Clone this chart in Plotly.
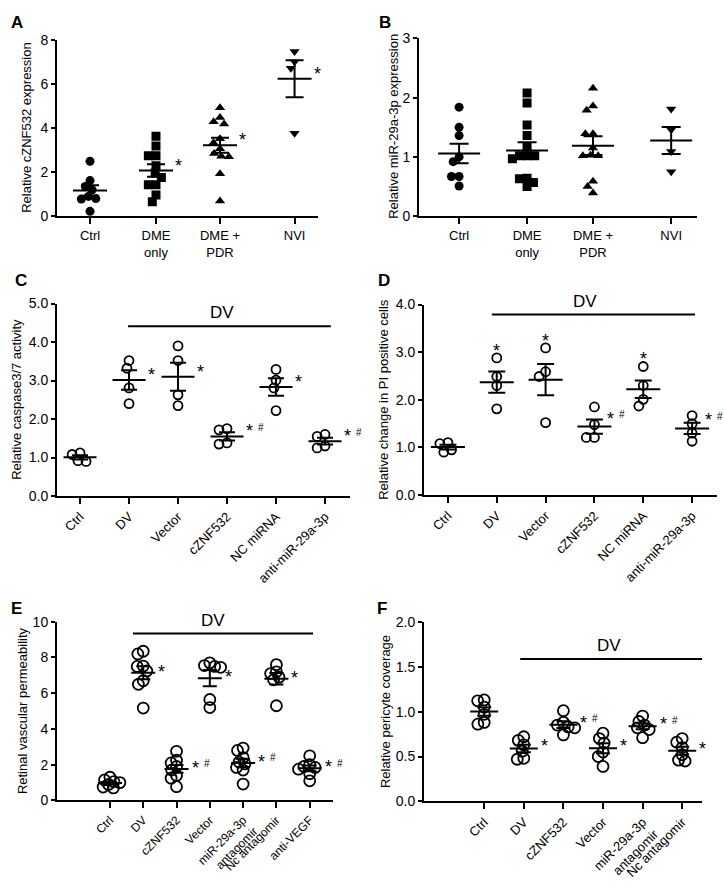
import numpy as np
import plotly.graph_objects as go

W, H = 724, 889
FONT = "Liberation Sans, Arial, sans-serif"

# ---- data ----
# A: relative cZNF532 expression
A_labels = ["Ctrl", "DME<br>only", "DME +<br>PDR", "NVI"]
A_ctrl = [2.5, 1.62, 1.35, 1.2, 0.9, 0.8, 0.78, 0.22]
A_dme = [3.64, 3.19, 2.75, 2.75, 2.3, 1.96, 1.76, 1.43, 1.43, 0.96, 0.66]
A_pdr = [4.94, 4.49, 4.3, 4.2, 3.52, 3.34, 3.07, 2.85, 2.73, 2.7, 1.93, 0.69]
A_nvi = [7.5, 7.03, 6.73, 3.78]

# B: relative miR-29a-3p expression
B_labels = A_labels
B_ctrl = [1.84, 1.5, 1.36, 1.0, 0.92, 0.67, 0.67, 0.51]
B_dme = [2.08, 1.91, 1.54, 1.36, 1.17, 1.02, 1.02, 1.02, 0.97, 0.64, 0.63, 0.57, 0.5]
B_pdr = [2.16, 1.86, 1.79, 1.39, 1.39, 1.15, 1.03, 1.02, 1.02, 0.59, 0.5, 0.39]
B_nvi = [1.81, 1.46, 1.09, 0.75]

# C: caspase3/7 activity
C_labels = ["Ctrl", "DV", "Vector", "cZNF532", "NC miRNA", "anti-miR-29a-3p"]
C_ctrl = [1.12, 1.08, 0.9, 0.92]
C_dv = [3.52, 3.32, 2.81, 2.40]
C_vec = [3.90, 3.52, 2.63, 2.35]
C_czn = [1.75, 1.72, 1.35, 1.38]
C_nc = [3.29, 3.01, 2.81, 2.22]
C_anti = [1.6, 1.55, 1.3, 1.25]

# D: PI positive cells
D_labels = C_labels
D_ctrl = [1.1, 1.08, 0.9, 0.95]
D_dv = [2.88, 2.49, 2.30, 1.81]
D_vec = [3.09, 2.59, 2.49, 1.52]
D_czn = [1.85, 1.48, 1.21, 1.21]
D_nc = [2.70, 2.30, 2.01, 1.87]
D_anti = [1.67, 1.5, 1.30, 1.13]

# E: retinal vascular permeability
E_labels = ["Ctrl", "DV", "cZNF532", "Vector", "miR-29a-3p<br>antagomir",
            "Nc antagomir", "anti-VEGF"]
E_ctrl = [1.3, 1.15, 1.05, 1.0, 0.9, 0.75, 0.7]
E_dv = [8.35, 8.2, 7.52, 7.5, 7.25, 6.7, 6.5, 5.17]
E_czn = [2.75, 2.25, 2.1, 1.9, 1.7, 1.4, 1.25, 0.77]
E_vec = [7.7, 7.55, 7.5, 7.45, 5.65, 5.2]
E_mir = [2.93, 2.8, 2.4, 2.15, 2.05, 1.85, 1.7, 0.92]
E_nc = [7.6, 7.2, 7.1, 6.9, 6.75, 5.3]
E_vegf = [2.5, 2.0, 1.9, 1.85, 1.75, 1.5, 1.1]

# F: relative pericyte coverage
F_labels = ["Ctrl", "DV", "cZNF532", "Vector", "miR-29a-3p<br>antagomir",
            "Nc antagomir"]
F_ctrl = [1.13, 1.12, 1.05, 0.97, 0.88, 0.86]
F_dv = [0.72, 0.68, 0.63, 0.56, 0.48, 0.47]
F_czn = [1.01, 0.88, 0.85, 0.83, 0.82, 0.74]
F_vec = [0.76, 0.7, 0.65, 0.55, 0.5, 0.39]
F_mir = [0.95, 0.89, 0.85, 0.82, 0.8, 0.71]
F_nc = [0.7, 0.66, 0.6, 0.52, 0.46, 0.45]

filled = ["circle", "square", "triangle-up", "triangle-down"]

# layout of each panel (pixel boxes measured on the original)
panels = [
    dict(letter="A", letter_xy=(17, 15), labels=A_labels,
         groups=[A_ctrl, A_dme, A_pdr, A_nvi], symbols=filled, size=9, olap=0.85,
         box=(57, 318, 33, 212), xr=(-0.5, 3.455), pos=[0, 1, 1.97, 3.1],
         ymax=8, dtick=2, fmt="d", angle=0, xfont=13,
         ytitle="Relative cZNF532 expression", ytitle_xy=(27, 122),
         stars=["", "r", "r", "r"], hw=17, cw=9, sx=0, sy=6, dv=None),
    dict(letter="B", letter_xy=(385, 15), labels=B_labels,
         groups=[B_ctrl, B_dme, B_pdr, B_nvi], symbols=filled, size=9, olap=0.85,
         box=(419, 697, 31, 212), xr=(-0.59, 3.5), pos=[0, 1, 1.97, 3.12],
         ymax=3, dtick=1, fmt="d", angle=0, xfont=13,
         ytitle="Relative miR-29a-3p expression", ytitle_xy=(394, 121),
         stars=["", "", "", ""], hw=21, cw=9.5, sx=0, sy=6, dv=None),
    dict(letter="C", letter_xy=(21, 278), labels=C_labels,
         groups=[C_ctrl, C_dv, C_vec, C_czn, C_nc, C_anti],
         symbols=["circle-open"] * 6, size=9, olap=0.9,
         box=(57, 350, 301, 497), xr=(-0.47, 5.51), pos=list(range(6)),
         ymax=5, dtick=1, fmt=".1f", angle=-45, xfont=13,
         ytitle="Relative caspase3/7 activity", ytitle_xy=(17, 399),
         stars=["", "r", "r", "rh", "r", "rh"], hw=16.5, cw=8, sx=0, sy=6,
         dv=(0.98, 5.12, 4.41, 2.9)),
    dict(letter="D", letter_xy=(384, 278), labels=D_labels,
         groups=[D_ctrl, D_dv, D_vec, D_czn, D_nc, D_anti],
         symbols=["circle-open"] * 6, size=9, olap=0.9,
         box=(424, 717, 302, 496), xr=(-0.49, 5.51), pos=list(range(6)),
         ymax=4, dtick=1, fmt=".1f", angle=-45, xfont=13,
         ytitle="Relative change in PI positive cells", ytitle_xy=(384, 399),
         stars=["", "t", "t", "rh", "t", "rh"], hw=17, cw=8.5, sx=-6, sy=9,
         dv=(0.9, 5.06, 3.79, 2.8)),
    dict(letter="E", letter_xy=(16, 611), labels=E_labels,
         groups=[E_ctrl, E_dv, E_czn, E_vec, E_mir, E_nc, E_vegf],
         symbols=["circle-open"] * 7, size=11, olap=0.55,
         box=(57, 333, 625, 807), xr=(-1.59, 6.7), pos=list(range(7)),
         ymax=10, dtick=2, fmt="d", angle=-45, xfont=12,
         ytitle="Retinal vascular permeability", ytitle_xy=(22, 716),
         stars=["", "r", "rh", "r", "rh", "r", "rh"], hw=12, cw=7, sx=1, sy=2,
         dv=(0.69, 6.1, 9.34, 3.1)),
    dict(letter="F", letter_xy=(382, 611), labels=F_labels,
         groups=[F_ctrl, F_dv, F_czn, F_vec, F_mir, F_nc],
         symbols=["circle-open"] * 6, size=11, olap=0.6,
         box=(424, 702, 625, 808), xr=(-1.52, 5.5), pos=list(range(6)),
         ymax=2, dtick=0.5, fmt=".1f", angle=-45, xfont=13,
         ytitle="Relative pericyte coverage", ytitle_xy=(385, 716),
         stars=["", "r", "rh", "r", "rh", "r"], hw=14, cw=7, sx=1, sy=3,
         dv=(0.91, 5.58, 1.585, 3.16)),
]


def swarm(vals, ppu_x, ppu_y, d):
    """simple beeswarm: horizontal offsets (data units) so markers don't overlap much"""
    vals = np.asarray(vals, float)
    off = np.zeros(len(vals))
    placed = []
    for i in np.argsort(-vals, kind="stable"):
        y = vals[i] * ppu_y
        cands = [0.0]
        for px, py in placed:
            dy = abs(y - py)
            if dy < d:
                dx = np.sqrt(d * d - dy * dy)
                cands += [px + dx, px - dx]
        cands.sort(key=lambda c: (round(abs(c), 6), c))
        for c in cands:
            if all((c - px) ** 2 + (y - py) ** 2 >= d * d - 1e-6 for px, py in placed):
                off[i] = c
                placed.append((c, y))
                break
    return off / ppu_x


fig = go.Figure()
layout = dict(width=W, height=H, autosize=False, showlegend=False,
              margin=dict(l=0, r=0, t=0, b=0),
              paper_bgcolor="white", plot_bgcolor="white",
              font=dict(family=FONT, color="black"))
annotations = []
shapes = []
STAR = 18

for k, p in enumerate(panels, start=1):
    xa = "x" if k == 1 else f"x{k}"
    ya = "y" if k == 1 else f"y{k}"
    x0, x1, ytop, ybot = p["box"]
    ppu_x = (x1 - x0) / (p["xr"][1] - p["xr"][0])
    ppu_y = (ybot - ytop) / p["ymax"]
    hw, cw = p["hw"] / ppu_x, p["cw"] / ppu_x

    lx, ly = [], []
    for g, vals in enumerate(p["groups"]):
        xc = p["pos"][g]
        offs = swarm(vals, ppu_x, ppu_y, p["size"] * p["olap"])
        sym = p["symbols"][g]
        mk = dict(symbol=sym, size=p["size"], color="black")
        if sym.endswith("open"):
            mk["line"] = dict(width=1.8, color="black")
        fig.add_trace(go.Scatter(x=xc + offs, y=vals, mode="markers", marker=mk,
                                 xaxis=xa, yaxis=ya, hoverinfo="y"))
        arr = np.asarray(vals)
        m = arr.mean()
        s = arr.std(ddof=1) / np.sqrt(len(arr))
        lx += [xc - hw, xc + hw, None, xc - cw, xc + cw, None,
               xc - cw, xc + cw, None, xc, xc, None]
        ly += [m, m, None, m + s, m + s, None, m - s, m - s, None,
               m - s, m + s, None]

        st = p["stars"][g]
        if st.startswith("r"):
            annotations.append(dict(x=xc + hw, y=m, xref=xa, yref=ya, text="*",
                                    showarrow=False, xanchor="left", yanchor="middle",
                                    xshift=p["sx"], yshift=p["sy"] - 1,
                                    font=dict(size=STAR, family=FONT, color="black")))
            if st == "rh":
                annotations.append(dict(x=xc + hw, y=m, xref=xa, yref=ya, text="#",
                                        showarrow=False, xanchor="left", yanchor="middle",
                                        xshift=p["sx"] + 12, yshift=p["sy"] + 3,
                                        font=dict(size=10, family=FONT, color="black")))
        elif st == "t":
            annotations.append(dict(x=xc, y=max(vals), xref=xa, yref=ya, text="*",
                                    showarrow=False, xanchor="center", yanchor="middle",
                                    yshift=7, font=dict(size=STAR, family=FONT, color="black")))

    fig.add_trace(go.Scatter(x=lx, y=ly, mode="lines",
                             line=dict(color="black", width=2),
                             xaxis=xa, yaxis=ya, hoverinfo="skip"))

    layout["xaxis" if k == 1 else f"xaxis{k}"] = dict(
        domain=[x0 / W, x1 / W], range=list(p["xr"]), anchor=ya,
        tickmode="array", tickvals=p["pos"], ticktext=p["labels"],
        tickangle=p["angle"], ticks="outside", ticklen=6, tickwidth=2,
        tickcolor="black", showline=True, linewidth=2, linecolor="black",
        showgrid=False, zeroline=False, tickfont=dict(size=p["xfont"], color="black"),
        fixedrange=True)
    layout["yaxis" if k == 1 else f"yaxis{k}"] = dict(
        domain=[1 - ybot / H, 1 - ytop / H], range=[0, p["ymax"]], anchor=xa,
        tick0=0, dtick=p["dtick"], tickformat=p["fmt"],
        ticks="outside", ticklen=4, tickwidth=2, tickcolor="black",
        showline=True, linewidth=2, linecolor="black",
        showgrid=False, zeroline=False, tickfont=dict(size=14, color="black"),
        fixedrange=True)

    # y-axis title and panel letter
    tx, ty = p["ytitle_xy"]
    annotations.append(dict(x=tx / W, y=1 - ty / H, xref="paper", yref="paper",
                            text=p["ytitle"], textangle=-90, showarrow=False,
                            xanchor="center", yanchor="middle",
                            font=dict(size=13, family=FONT, color="black")))
    lx_, ly_ = p["letter_xy"]
    annotations.append(dict(x=lx_ / W, y=1 - ly_ / H, xref="paper", yref="paper",
                            text="<b>" + p["letter"] + "</b>", showarrow=False,
                            xanchor="center", yanchor="middle",
                            font=dict(size=17, family=FONT, color="black")))

    # "DV" bracket
    if p["dv"]:
        a, b, yv, xt = p["dv"]
        shapes.append(dict(type="line", xref=xa, yref=ya, x0=a, x1=b, y0=yv, y1=yv,
                           line=dict(color="black", width=2)))
        annotations.append(dict(x=xt, y=yv, xref=xa, yref=ya, text="DV",
                                showarrow=False, xanchor="center", yanchor="bottom",
                                yshift=2, font=dict(size=17, family=FONT, color="black")))

layout["annotations"] = annotations
layout["shapes"] = shapes
fig.update_layout(**layout)

# drop the browser's default body margin so the figure fills the window
fig.write_html("out.html", config={"displayModeBar": False},
               post_script="document.body.style.margin='0';")
